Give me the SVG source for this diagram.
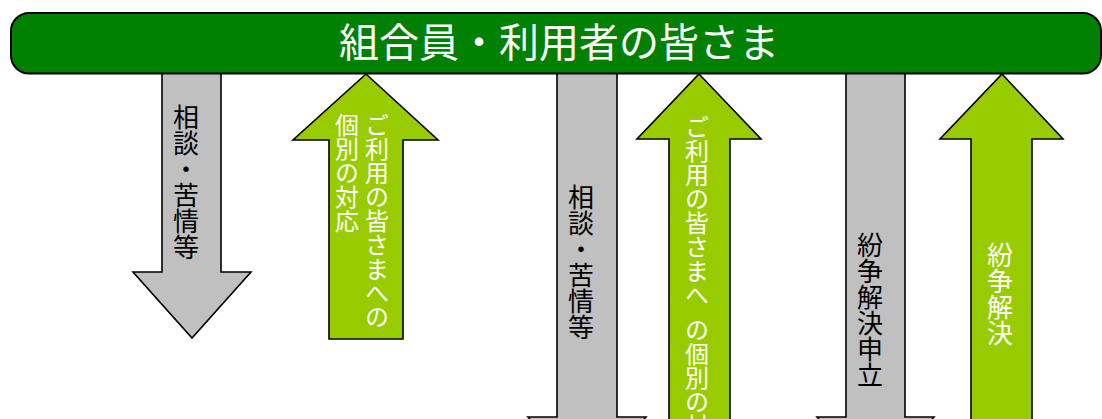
<svg xmlns="http://www.w3.org/2000/svg" width="1102" height="419" viewBox="0 0 1102 419">
<style>
.down{fill:#C0C0C0;stroke:#000;stroke-width:1.6;stroke-linejoin:miter}
.up{fill:#99CC00;stroke:#000;stroke-width:1.6;stroke-linejoin:miter}
.vt{font-family:"Noto Sans CJK JP","Noto Sans",sans-serif;writing-mode:vertical-rl;text-orientation:mixed}
.dark{fill:#000;font-size:26px}
.light{fill:#fff;font-size:24px}
.title{font-family:"Noto Sans CJK JP","Noto Sans",sans-serif;font-size:40px;fill:#fff;text-anchor:middle}
</style>
<rect width="1102" height="419" fill="#fff"/>
<g id="connectors">
  <g id="arrow-consult-1">
    <polygon class="down" points="162,66 221,66 221,272 251,272 192,338 133,272 162,272"/>
    <text class="vt dark" x="186" y="104">相談・苦情等</text>
  </g>
  <g id="arrow-response-1">
    <polygon class="up" points="366,74 438,140 403,140 403,339 329,339 329,140 293,140"/>
    <text class="vt light"><tspan x="377" y="113">ご利用の皆さまへの</tspan><tspan x="347" y="113">個別の対応</tspan></text>
  </g>
  <g id="arrow-consult-2">
    <polygon class="down" points="557,66 617,66 617,417 646,417 587,483 528,417 557,417"/>
    <text class="vt dark" x="581" y="184">相談・苦情等</text>
  </g>
  <g id="arrow-response-2">
    <polygon class="up" points="699,74 761,139 730,139 730,440 669,440 669,139 637,139"/>
    <text class="vt light"><tspan x="697" y="115">ご利用の皆さまへ </tspan><tspan x="697" y="318">の個別の対応</tspan></text>
  </g>
  <g id="arrow-dispute-apply">
    <polygon class="down" points="846,66 905,66 905,417 934,417 876,483 817,417 846,417"/>
    <text class="vt dark" x="870" y="232">紛争解決申立</text>
  </g>
  <g id="arrow-dispute-resolve">
    <polygon class="up" points="1002,74 1063,139 1032,139 1032,440 971,440 971,139 940,139"/>
    <text class="vt light" style="font-size:26px" x="1000" y="242">紛争解決</text>
  </g>
</g>
<g id="node-members">
  <rect x="11" y="13" width="1090" height="60.5" rx="18" ry="18" fill="#008000" stroke="#000" stroke-width="2"/>
  <text class="title" x="559" y="57">組合員・利用者の皆さま</text>
</g>
</svg>
